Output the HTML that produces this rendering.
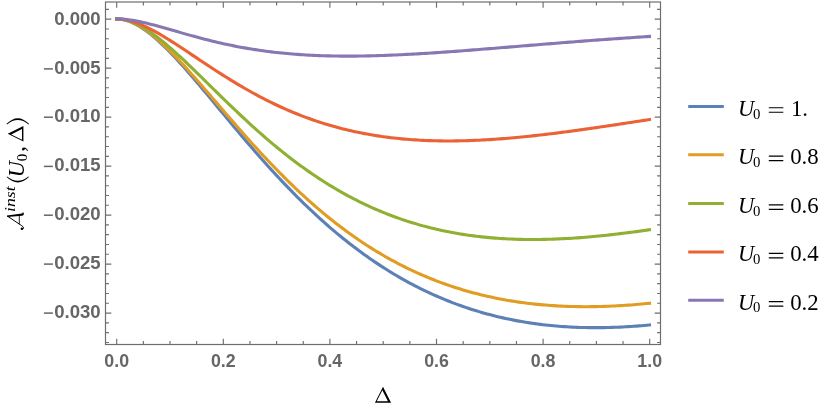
<!DOCTYPE html>
<html><head><meta charset="utf-8"><title>plot</title>
<style>
html,body{margin:0;padding:0;background:#fff;}
body{width:830px;height:414px;position:relative;overflow:hidden;font-family:"Liberation Sans",sans-serif;}
</style></head><body>
<svg width="830" height="414" viewBox="0 0 830 414" style="position:absolute;left:0;top:0;will-change:transform">
<path d="M116.70 18.90 L119.36 19.02 L122.03 19.36 L124.69 19.92 L127.36 20.68 L130.02 21.64 L132.68 22.77 L135.35 24.06 L138.01 25.52 L140.68 27.12 L143.34 28.87 L146.00 30.74 L148.67 32.73 L151.33 34.84 L154.00 37.06 L156.66 39.37 L159.32 41.77 L161.99 44.26 L164.65 46.83 L167.31 49.47 L169.98 52.18 L172.64 54.96 L175.31 57.78 L177.97 60.66 L180.63 63.59 L183.30 66.56 L185.96 69.57 L188.63 72.61 L191.29 75.69 L193.95 78.79 L196.62 81.92 L199.28 85.06 L201.95 88.23 L204.61 91.41 L207.27 94.60 L209.94 97.80 L212.60 101.01 L215.27 104.22 L217.93 107.43 L220.59 110.65 L223.26 113.86 L225.92 117.07 L228.59 120.27 L231.25 123.46 L233.91 126.65 L236.58 129.83 L239.24 132.99 L241.90 136.14 L244.57 139.28 L247.23 142.40 L249.90 145.50 L252.56 148.59 L255.22 151.65 L257.89 154.70 L260.55 157.73 L263.22 160.73 L265.88 163.71 L268.54 166.67 L271.21 169.61 L273.87 172.52 L276.54 175.41 L279.20 178.27 L281.86 181.10 L284.53 183.91 L287.19 186.69 L289.86 189.45 L292.52 192.17 L295.18 194.87 L297.85 197.54 L300.51 200.18 L303.18 202.80 L305.84 205.38 L308.50 207.94 L311.17 210.46 L313.83 212.96 L316.50 215.42 L319.16 217.86 L321.82 220.27 L324.49 222.64 L327.15 224.99 L329.81 227.31 L332.48 229.59 L335.14 231.85 L337.81 234.07 L340.47 236.27 L343.13 238.44 L345.80 240.57 L348.46 242.68 L351.13 244.75 L353.79 246.80 L356.45 248.81 L359.12 250.80 L361.78 252.76 L364.45 254.68 L367.11 256.58 L369.77 258.45 L372.44 260.29 L375.10 262.10 L377.77 263.88 L380.43 265.63 L383.09 267.35 L385.76 269.05 L388.42 270.71 L391.09 272.35 L393.75 273.96 L396.41 275.54 L399.08 277.09 L401.74 278.62 L404.40 280.12 L407.07 281.59 L409.73 283.03 L412.40 284.45 L415.06 285.84 L417.72 287.20 L420.39 288.54 L423.05 289.85 L425.72 291.13 L428.38 292.39 L431.04 293.63 L433.71 294.83 L436.37 296.01 L439.04 297.17 L441.70 298.30 L444.36 299.41 L447.03 300.49 L449.69 301.55 L452.36 302.58 L455.02 303.59 L457.68 304.58 L460.35 305.54 L463.01 306.48 L465.68 307.40 L468.34 308.29 L471.00 309.16 L473.67 310.01 L476.33 310.83 L479.00 311.63 L481.66 312.41 L484.32 313.17 L486.99 313.91 L489.65 314.62 L492.31 315.32 L494.98 315.99 L497.64 316.64 L500.31 317.27 L502.97 317.88 L505.63 318.47 L508.30 319.04 L510.96 319.59 L513.63 320.12 L516.29 320.63 L518.95 321.12 L521.62 321.59 L524.28 322.04 L526.95 322.48 L529.61 322.89 L532.27 323.29 L534.94 323.66 L537.60 324.02 L540.27 324.36 L542.93 324.69 L545.59 324.99 L548.26 325.28 L550.92 325.55 L553.59 325.80 L556.25 326.04 L558.91 326.26 L561.58 326.46 L564.24 326.65 L566.90 326.82 L569.57 326.98 L572.23 327.12 L574.90 327.24 L577.56 327.35 L580.22 327.44 L582.89 327.51 L585.55 327.57 L588.22 327.62 L590.88 327.65 L593.54 327.67 L596.21 327.67 L598.87 327.66 L601.54 327.64 L604.20 327.60 L606.86 327.54 L609.53 327.48 L612.19 327.40 L614.86 327.30 L617.52 327.20 L620.18 327.08 L622.85 326.94 L625.51 326.80 L628.18 326.64 L630.84 326.47 L633.50 326.29 L636.17 326.09 L638.83 325.89 L641.49 325.67 L644.16 325.44 L646.82 325.20 L649.49 324.95" fill="none" stroke="#5e81b5" stroke-width="3.1" stroke-linecap="square" stroke-linejoin="round"/>
<path d="M116.70 18.90 L119.36 19.01 L122.03 19.34 L124.69 19.88 L127.36 20.61 L130.02 21.53 L132.68 22.61 L135.35 23.86 L138.01 25.26 L140.68 26.81 L143.34 28.49 L146.00 30.29 L148.67 32.21 L151.33 34.25 L154.00 36.38 L156.66 38.62 L159.32 40.94 L161.99 43.34 L164.65 45.82 L167.31 48.38 L169.98 50.99 L172.64 53.67 L175.31 56.41 L177.97 59.19 L180.63 62.02 L183.30 64.89 L185.96 67.80 L188.63 70.75 L191.29 73.72 L193.95 76.72 L196.62 79.74 L199.28 82.78 L201.95 85.84 L204.61 88.91 L207.27 91.99 L209.94 95.08 L212.60 98.17 L215.27 101.27 L217.93 104.37 L220.59 107.47 L223.26 110.57 L225.92 113.66 L228.59 116.74 L231.25 119.82 L233.91 122.88 L236.58 125.94 L239.24 128.98 L241.90 132.00 L244.57 135.01 L247.23 138.01 L249.90 140.98 L252.56 143.94 L255.22 146.88 L257.89 149.79 L260.55 152.68 L263.22 155.55 L265.88 158.40 L268.54 161.22 L271.21 164.02 L273.87 166.80 L276.54 169.54 L279.20 172.26 L281.86 174.95 L284.53 177.62 L287.19 180.26 L289.86 182.87 L292.52 185.45 L295.18 188.00 L297.85 190.52 L300.51 193.01 L303.18 195.47 L305.84 197.91 L308.50 200.31 L311.17 202.68 L313.83 205.02 L316.50 207.34 L319.16 209.62 L321.82 211.87 L324.49 214.09 L327.15 216.28 L329.81 218.44 L332.48 220.56 L335.14 222.66 L337.81 224.73 L340.47 226.76 L343.13 228.77 L345.80 230.74 L348.46 232.69 L351.13 234.60 L353.79 236.49 L356.45 238.34 L359.12 240.17 L361.78 241.96 L364.45 243.73 L367.11 245.46 L369.77 247.17 L372.44 248.84 L375.10 250.49 L377.77 252.11 L380.43 253.70 L383.09 255.26 L385.76 256.80 L388.42 258.30 L391.09 259.78 L393.75 261.23 L396.41 262.65 L399.08 264.05 L401.74 265.41 L404.40 266.75 L407.07 268.07 L409.73 269.36 L412.40 270.62 L415.06 271.85 L417.72 273.06 L420.39 274.25 L423.05 275.41 L425.72 276.54 L428.38 277.65 L431.04 278.73 L433.71 279.79 L436.37 280.83 L439.04 281.84 L441.70 282.83 L444.36 283.79 L447.03 284.73 L449.69 285.65 L452.36 286.54 L455.02 287.41 L457.68 288.26 L460.35 289.09 L463.01 289.90 L465.68 290.68 L468.34 291.44 L471.00 292.18 L473.67 292.90 L476.33 293.60 L479.00 294.28 L481.66 294.93 L484.32 295.57 L486.99 296.19 L489.65 296.78 L492.31 297.36 L494.98 297.92 L497.64 298.46 L500.31 298.98 L502.97 299.48 L505.63 299.96 L508.30 300.42 L510.96 300.87 L513.63 301.29 L516.29 301.70 L518.95 302.10 L521.62 302.47 L524.28 302.83 L526.95 303.17 L529.61 303.49 L532.27 303.80 L534.94 304.09 L537.60 304.36 L540.27 304.62 L542.93 304.86 L545.59 305.08 L548.26 305.29 L550.92 305.49 L553.59 305.67 L556.25 305.83 L558.91 305.98 L561.58 306.11 L564.24 306.23 L566.90 306.34 L569.57 306.43 L572.23 306.51 L574.90 306.57 L577.56 306.62 L580.22 306.65 L582.89 306.68 L585.55 306.69 L588.22 306.68 L590.88 306.66 L593.54 306.63 L596.21 306.59 L598.87 306.53 L601.54 306.47 L604.20 306.39 L606.86 306.29 L609.53 306.19 L612.19 306.07 L614.86 305.95 L617.52 305.81 L620.18 305.66 L622.85 305.49 L625.51 305.32 L628.18 305.14 L630.84 304.94 L633.50 304.73 L636.17 304.52 L638.83 304.29 L641.49 304.05 L644.16 303.81 L646.82 303.55 L649.49 303.28" fill="none" stroke="#e19c24" stroke-width="3.1" stroke-linecap="square" stroke-linejoin="round"/>
<path d="M116.70 18.90 L119.36 19.00 L122.03 19.31 L124.69 19.80 L127.36 20.47 L130.02 21.31 L132.68 22.30 L135.35 23.44 L138.01 24.71 L140.68 26.11 L143.34 27.62 L146.00 29.24 L148.67 30.97 L151.33 32.79 L154.00 34.69 L156.66 36.68 L159.32 38.74 L161.99 40.87 L164.65 43.06 L167.31 45.31 L169.98 47.61 L172.64 49.96 L175.31 52.35 L177.97 54.78 L180.63 57.24 L183.30 59.73 L185.96 62.25 L188.63 64.80 L191.29 67.36 L193.95 69.94 L196.62 72.53 L199.28 75.13 L201.95 77.75 L204.61 80.36 L207.27 82.98 L209.94 85.61 L212.60 88.23 L215.27 90.85 L217.93 93.46 L220.59 96.06 L223.26 98.66 L225.92 101.25 L228.59 103.83 L231.25 106.39 L233.91 108.94 L236.58 111.48 L239.24 114.00 L241.90 116.50 L244.57 118.98 L247.23 121.45 L249.90 123.89 L252.56 126.31 L255.22 128.71 L257.89 131.09 L260.55 133.45 L263.22 135.78 L265.88 138.08 L268.54 140.37 L271.21 142.62 L273.87 144.85 L276.54 147.06 L279.20 149.24 L281.86 151.39 L284.53 153.52 L287.19 155.61 L289.86 157.68 L292.52 159.72 L295.18 161.74 L297.85 163.72 L300.51 165.68 L303.18 167.61 L305.84 169.51 L308.50 171.38 L311.17 173.23 L313.83 175.04 L316.50 176.83 L319.16 178.59 L321.82 180.32 L324.49 182.02 L327.15 183.69 L329.81 185.33 L332.48 186.95 L335.14 188.53 L337.81 190.09 L340.47 191.62 L343.13 193.12 L345.80 194.59 L348.46 196.04 L351.13 197.46 L353.79 198.85 L356.45 200.21 L359.12 201.54 L361.78 202.85 L364.45 204.13 L367.11 205.39 L369.77 206.62 L372.44 207.82 L375.10 208.99 L377.77 210.14 L380.43 211.26 L383.09 212.36 L385.76 213.43 L388.42 214.48 L391.09 215.50 L393.75 216.50 L396.41 217.47 L399.08 218.41 L401.74 219.34 L404.40 220.24 L407.07 221.11 L409.73 221.96 L412.40 222.79 L415.06 223.59 L417.72 224.38 L420.39 225.14 L423.05 225.87 L425.72 226.59 L428.38 227.28 L431.04 227.95 L433.71 228.60 L436.37 229.22 L439.04 229.83 L441.70 230.42 L444.36 230.98 L447.03 231.53 L449.69 232.05 L452.36 232.55 L455.02 233.04 L457.68 233.50 L460.35 233.95 L463.01 234.38 L465.68 234.78 L468.34 235.17 L471.00 235.54 L473.67 235.89 L476.33 236.23 L479.00 236.55 L481.66 236.85 L484.32 237.13 L486.99 237.39 L489.65 237.64 L492.31 237.87 L494.98 238.09 L497.64 238.29 L500.31 238.47 L502.97 238.64 L505.63 238.79 L508.30 238.93 L510.96 239.05 L513.63 239.16 L516.29 239.25 L518.95 239.33 L521.62 239.39 L524.28 239.44 L526.95 239.48 L529.61 239.50 L532.27 239.51 L534.94 239.51 L537.60 239.49 L540.27 239.46 L542.93 239.42 L545.59 239.36 L548.26 239.30 L550.92 239.22 L553.59 239.13 L556.25 239.03 L558.91 238.92 L561.58 238.79 L564.24 238.66 L566.90 238.51 L569.57 238.36 L572.23 238.19 L574.90 238.02 L577.56 237.83 L580.22 237.63 L582.89 237.43 L585.55 237.21 L588.22 236.99 L590.88 236.76 L593.54 236.52 L596.21 236.27 L598.87 236.01 L601.54 235.74 L604.20 235.47 L606.86 235.18 L609.53 234.89 L612.19 234.60 L614.86 234.29 L617.52 233.98 L620.18 233.66 L622.85 233.33 L625.51 233.00 L628.18 232.66 L630.84 232.32 L633.50 231.97 L636.17 231.61 L638.83 231.24 L641.49 230.88 L644.16 230.50 L646.82 230.12 L649.49 229.74" fill="none" stroke="#8fb032" stroke-width="3.1" stroke-linecap="square" stroke-linejoin="round"/>
<path d="M116.70 18.90 L119.36 18.98 L122.03 19.22 L124.69 19.61 L127.36 20.14 L130.02 20.79 L132.68 21.56 L135.35 22.43 L138.01 23.41 L140.68 24.47 L143.34 25.63 L146.00 26.85 L148.67 28.15 L151.33 29.51 L154.00 30.93 L156.66 32.41 L159.32 33.93 L161.99 35.49 L164.65 37.09 L167.31 38.72 L169.98 40.39 L172.64 42.07 L175.31 43.79 L177.97 45.52 L180.63 47.26 L183.30 49.02 L185.96 50.79 L188.63 52.56 L191.29 54.34 L193.95 56.12 L196.62 57.90 L199.28 59.68 L201.95 61.46 L204.61 63.23 L207.27 64.99 L209.94 66.75 L212.60 68.49 L215.27 70.22 L217.93 71.94 L220.59 73.65 L223.26 75.34 L225.92 77.02 L228.59 78.68 L231.25 80.32 L233.91 81.94 L236.58 83.55 L239.24 85.13 L241.90 86.70 L244.57 88.24 L247.23 89.77 L249.90 91.27 L252.56 92.74 L255.22 94.20 L257.89 95.63 L260.55 97.04 L263.22 98.43 L265.88 99.79 L268.54 101.13 L271.21 102.45 L273.87 103.74 L276.54 105.01 L279.20 106.25 L281.86 107.47 L284.53 108.66 L287.19 109.83 L289.86 110.98 L292.52 112.10 L295.18 113.20 L297.85 114.27 L300.51 115.32 L303.18 116.35 L305.84 117.35 L308.50 118.32 L311.17 119.28 L313.83 120.21 L316.50 121.11 L319.16 121.99 L321.82 122.85 L324.49 123.69 L327.15 124.50 L329.81 125.30 L332.48 126.06 L335.14 126.81 L337.81 127.53 L340.47 128.24 L343.13 128.92 L345.80 129.58 L348.46 130.21 L351.13 130.83 L353.79 131.43 L356.45 132.00 L359.12 132.56 L361.78 133.09 L364.45 133.61 L367.11 134.10 L369.77 134.58 L372.44 135.03 L375.10 135.47 L377.77 135.89 L380.43 136.29 L383.09 136.67 L385.76 137.03 L388.42 137.38 L391.09 137.70 L393.75 138.01 L396.41 138.31 L399.08 138.58 L401.74 138.84 L404.40 139.09 L407.07 139.31 L409.73 139.53 L412.40 139.72 L415.06 139.90 L417.72 140.07 L420.39 140.22 L423.05 140.35 L425.72 140.47 L428.38 140.58 L431.04 140.67 L433.71 140.75 L436.37 140.81 L439.04 140.86 L441.70 140.90 L444.36 140.93 L447.03 140.94 L449.69 140.94 L452.36 140.93 L455.02 140.90 L457.68 140.87 L460.35 140.82 L463.01 140.76 L465.68 140.69 L468.34 140.61 L471.00 140.52 L473.67 140.42 L476.33 140.30 L479.00 140.18 L481.66 140.05 L484.32 139.90 L486.99 139.75 L489.65 139.59 L492.31 139.42 L494.98 139.24 L497.64 139.05 L500.31 138.86 L502.97 138.65 L505.63 138.44 L508.30 138.22 L510.96 137.99 L513.63 137.75 L516.29 137.51 L518.95 137.26 L521.62 137.00 L524.28 136.73 L526.95 136.46 L529.61 136.19 L532.27 135.90 L534.94 135.61 L537.60 135.31 L540.27 135.01 L542.93 134.70 L545.59 134.39 L548.26 134.07 L550.92 133.75 L553.59 133.42 L556.25 133.09 L558.91 132.75 L561.58 132.41 L564.24 132.06 L566.90 131.71 L569.57 131.36 L572.23 131.00 L574.90 130.63 L577.56 130.27 L580.22 129.90 L582.89 129.53 L585.55 129.15 L588.22 128.77 L590.88 128.39 L593.54 128.01 L596.21 127.62 L598.87 127.23 L601.54 126.84 L604.20 126.44 L606.86 126.05 L609.53 125.65 L612.19 125.25 L614.86 124.85 L617.52 124.45 L620.18 124.04 L622.85 123.64 L625.51 123.23 L628.18 122.82 L630.84 122.41 L633.50 122.00 L636.17 121.59 L638.83 121.18 L641.49 120.77 L644.16 120.36 L646.82 119.95 L649.49 119.53" fill="none" stroke="#eb6235" stroke-width="3.1" stroke-linecap="square" stroke-linejoin="round"/>
<path d="M116.70 18.90 L119.36 18.95 L122.03 19.08 L124.69 19.30 L127.36 19.58 L130.02 19.94 L132.68 20.35 L135.35 20.81 L138.01 21.32 L140.68 21.88 L143.34 22.47 L146.00 23.09 L148.67 23.74 L151.33 24.42 L154.00 25.11 L156.66 25.83 L159.32 26.56 L161.99 27.30 L164.65 28.05 L167.31 28.81 L169.98 29.57 L172.64 30.33 L175.31 31.10 L177.97 31.86 L180.63 32.62 L183.30 33.38 L185.96 34.13 L188.63 34.88 L191.29 35.62 L193.95 36.35 L196.62 37.07 L199.28 37.79 L201.95 38.49 L204.61 39.18 L207.27 39.85 L209.94 40.52 L212.60 41.17 L215.27 41.81 L217.93 42.44 L220.59 43.05 L223.26 43.65 L225.92 44.23 L228.59 44.80 L231.25 45.35 L233.91 45.89 L236.58 46.41 L239.24 46.92 L241.90 47.41 L244.57 47.89 L247.23 48.35 L249.90 48.80 L252.56 49.24 L255.22 49.65 L257.89 50.06 L260.55 50.45 L263.22 50.82 L265.88 51.18 L268.54 51.53 L271.21 51.86 L273.87 52.17 L276.54 52.48 L279.20 52.77 L281.86 53.04 L284.53 53.31 L287.19 53.55 L289.86 53.79 L292.52 54.01 L295.18 54.23 L297.85 54.42 L300.51 54.61 L303.18 54.79 L305.84 54.95 L308.50 55.10 L311.17 55.24 L313.83 55.37 L316.50 55.49 L319.16 55.59 L321.82 55.69 L324.49 55.78 L327.15 55.85 L329.81 55.92 L332.48 55.98 L335.14 56.02 L337.81 56.06 L340.47 56.09 L343.13 56.11 L345.80 56.12 L348.46 56.12 L351.13 56.12 L353.79 56.10 L356.45 56.08 L359.12 56.05 L361.78 56.02 L364.45 55.97 L367.11 55.92 L369.77 55.86 L372.44 55.80 L375.10 55.73 L377.77 55.65 L380.43 55.57 L383.09 55.48 L385.76 55.38 L388.42 55.28 L391.09 55.17 L393.75 55.06 L396.41 54.94 L399.08 54.82 L401.74 54.69 L404.40 54.56 L407.07 54.42 L409.73 54.28 L412.40 54.14 L415.06 53.99 L417.72 53.83 L420.39 53.67 L423.05 53.51 L425.72 53.35 L428.38 53.18 L431.04 53.01 L433.71 52.83 L436.37 52.66 L439.04 52.48 L441.70 52.29 L444.36 52.11 L447.03 51.92 L449.69 51.73 L452.36 51.53 L455.02 51.34 L457.68 51.14 L460.35 50.94 L463.01 50.74 L465.68 50.54 L468.34 50.33 L471.00 50.13 L473.67 49.92 L476.33 49.71 L479.00 49.50 L481.66 49.29 L484.32 49.07 L486.99 48.86 L489.65 48.64 L492.31 48.43 L494.98 48.21 L497.64 48.00 L500.31 47.78 L502.97 47.56 L505.63 47.34 L508.30 47.12 L510.96 46.91 L513.63 46.69 L516.29 46.47 L518.95 46.25 L521.62 46.03 L524.28 45.81 L526.95 45.59 L529.61 45.37 L532.27 45.15 L534.94 44.94 L537.60 44.72 L540.27 44.50 L542.93 44.28 L545.59 44.07 L548.26 43.85 L550.92 43.64 L553.59 43.42 L556.25 43.21 L558.91 43.00 L561.58 42.78 L564.24 42.57 L566.90 42.36 L569.57 42.15 L572.23 41.94 L574.90 41.74 L577.56 41.53 L580.22 41.33 L582.89 41.12 L585.55 40.92 L588.22 40.72 L590.88 40.52 L593.54 40.32 L596.21 40.12 L598.87 39.92 L601.54 39.73 L604.20 39.53 L606.86 39.34 L609.53 39.15 L612.19 38.96 L614.86 38.77 L617.52 38.59 L620.18 38.40 L622.85 38.22 L625.51 38.04 L628.18 37.86 L630.84 37.68 L633.50 37.50 L636.17 37.32 L638.83 37.15 L641.49 36.98 L644.16 36.81 L646.82 36.64 L649.49 36.47" fill="none" stroke="#8778b3" stroke-width="3.1" stroke-linecap="square" stroke-linejoin="round"/>
<rect x="105.5" y="2.0" width="555.0" height="342.5" fill="none" stroke="#6e6e6e" stroke-width="1.2"/>
<path d="M116.70 344.50 v-5.80 M116.70 2.00 v5.80 M143.35 344.50 v-3.40 M143.35 2.00 v3.40 M170.00 344.50 v-3.40 M170.00 2.00 v3.40 M196.65 344.50 v-3.40 M196.65 2.00 v3.40 M223.30 344.50 v-5.80 M223.30 2.00 v5.80 M249.95 344.50 v-3.40 M249.95 2.00 v3.40 M276.60 344.50 v-3.40 M276.60 2.00 v3.40 M303.25 344.50 v-3.40 M303.25 2.00 v3.40 M329.90 344.50 v-5.80 M329.90 2.00 v5.80 M356.55 344.50 v-3.40 M356.55 2.00 v3.40 M383.20 344.50 v-3.40 M383.20 2.00 v3.40 M409.85 344.50 v-3.40 M409.85 2.00 v3.40 M436.50 344.50 v-5.80 M436.50 2.00 v5.80 M463.15 344.50 v-3.40 M463.15 2.00 v3.40 M489.80 344.50 v-3.40 M489.80 2.00 v3.40 M516.45 344.50 v-3.40 M516.45 2.00 v3.40 M543.10 344.50 v-5.80 M543.10 2.00 v5.80 M569.75 344.50 v-3.40 M569.75 2.00 v3.40 M596.40 344.50 v-3.40 M596.40 2.00 v3.40 M623.05 344.50 v-3.40 M623.05 2.00 v3.40 M649.70 344.50 v-5.80 M649.70 2.00 v5.80 M105.50 342.45 h3.40 M660.50 342.45 h-3.40 M105.50 332.65 h3.40 M660.50 332.65 h-3.40 M105.50 322.86 h3.40 M660.50 322.86 h-3.40 M105.50 313.06 h5.80 M660.50 313.06 h-5.80 M105.50 303.26 h3.40 M660.50 303.26 h-3.40 M105.50 293.47 h3.40 M660.50 293.47 h-3.40 M105.50 283.67 h3.40 M660.50 283.67 h-3.40 M105.50 273.87 h3.40 M660.50 273.87 h-3.40 M105.50 264.07 h5.80 M660.50 264.07 h-5.80 M105.50 254.28 h3.40 M660.50 254.28 h-3.40 M105.50 244.48 h3.40 M660.50 244.48 h-3.40 M105.50 234.68 h3.40 M660.50 234.68 h-3.40 M105.50 224.89 h3.40 M660.50 224.89 h-3.40 M105.50 215.09 h5.80 M660.50 215.09 h-5.80 M105.50 205.29 h3.40 M660.50 205.29 h-3.40 M105.50 195.50 h3.40 M660.50 195.50 h-3.40 M105.50 185.70 h3.40 M660.50 185.70 h-3.40 M105.50 175.90 h3.40 M660.50 175.90 h-3.40 M105.50 166.11 h5.80 M660.50 166.11 h-5.80 M105.50 156.31 h3.40 M660.50 156.31 h-3.40 M105.50 146.51 h3.40 M660.50 146.51 h-3.40 M105.50 136.71 h3.40 M660.50 136.71 h-3.40 M105.50 126.92 h3.40 M660.50 126.92 h-3.40 M105.50 117.12 h5.80 M660.50 117.12 h-5.80 M105.50 107.32 h3.40 M660.50 107.32 h-3.40 M105.50 97.53 h3.40 M660.50 97.53 h-3.40 M105.50 87.73 h3.40 M660.50 87.73 h-3.40 M105.50 77.93 h3.40 M660.50 77.93 h-3.40 M105.50 68.13 h5.80 M660.50 68.13 h-5.80 M105.50 58.34 h3.40 M660.50 58.34 h-3.40 M105.50 48.54 h3.40 M660.50 48.54 h-3.40 M105.50 38.74 h3.40 M660.50 38.74 h-3.40 M105.50 28.95 h3.40 M660.50 28.95 h-3.40 M105.50 19.15 h5.80 M660.50 19.15 h-5.80 M105.50 9.35 h3.40 M660.50 9.35 h-3.40" fill="none" stroke="#6e6e6e" stroke-width="1.15"/>
<g font-family="Liberation Sans, sans-serif" font-weight="bold" font-size="17.8" fill="#666666">
<text transform="translate(100.7,25.20) scale(1.045,1)" text-anchor="end">0.000</text>
<text transform="translate(100.7,73.80) scale(1.045,1)" text-anchor="end">0.005</text>
<rect x="43.9" y="68.15" width="9.0" height="1.5"/>
<text transform="translate(100.7,122.10) scale(1.045,1)" text-anchor="end">0.010</text>
<rect x="43.9" y="116.45" width="9.0" height="1.5"/>
<text transform="translate(100.7,171.30) scale(1.045,1)" text-anchor="end">0.015</text>
<rect x="43.9" y="165.65" width="9.0" height="1.5"/>
<text transform="translate(100.7,220.10) scale(1.045,1)" text-anchor="end">0.020</text>
<rect x="43.9" y="214.45" width="9.0" height="1.5"/>
<text transform="translate(100.7,269.00) scale(1.045,1)" text-anchor="end">0.025</text>
<rect x="43.9" y="263.35" width="9.0" height="1.5"/>
<text transform="translate(100.7,318.00) scale(1.045,1)" text-anchor="end">0.030</text>
<rect x="43.9" y="312.35" width="9.0" height="1.5"/>
<text x="116.70" y="366.8" text-anchor="middle">0.0</text>
<text x="223.30" y="366.8" text-anchor="middle">0.2</text>
<text x="329.90" y="366.8" text-anchor="middle">0.4</text>
<text x="436.50" y="366.8" text-anchor="middle">0.6</text>
<text x="543.10" y="366.8" text-anchor="middle">0.8</text>
<text x="649.70" y="366.8" text-anchor="middle">1.0</text>
</g>
<path d="M374.95 402.70 L383.00 386.80 L391.05 402.70 Z M376.78 401.30 L387.93 401.30 L382.36 390.29 Z" fill="#000" fill-rule="evenodd"/>
<g transform="translate(23.5,230.5) rotate(-90)" fill="#000" font-family="Liberation Serif, serif">
<path d="M14.3 -16.0 L5.1 -2.2 Q3.9 -0.2 2.9 0.1 Q1.6 0.4 1.5 -1.0" fill="none" stroke="#000" stroke-width="1.0" stroke-linecap="round"/>
<circle cx="1.8" cy="-1.6" r="1.25"/>
<path d="M13.4 -16.3 L14.9 -16.4 L17.0 -1.6 Q17.2 -0.3 18.2 -0.9 L18.25 -0.3 Q17.2 0.6 15.9 0.3 Q14.9 0 14.8 -1.4 Z"/>
<path d="M6.2 -4.2 H15.3" fill="none" stroke="#000" stroke-width="0.85"/>
<text transform="translate(18.6,-8.5) scale(1.173,1)" font-size="15.1" font-style="italic">inst</text>
<path d="M53.40 -16.90 Q42.50 -5.70 53.40 5.50 L54.05 5.05 Q45.50 -5.70 54.05 -16.45 Z"/>
<text transform="translate(53.2,0) scale(0.93,1)" font-size="24" font-style="italic">U</text>
<text x="69.3" y="3.5" font-size="15">0</text>
<text x="78.6" y="0" font-size="24">,</text>
<path d="M88.95 -0.10 L96.75 -15.80 L104.55 -0.10 Z M90.76 -1.50 L101.45 -1.50 L96.11 -12.26 Z" fill="#000" fill-rule="evenodd"/>
<path d="M106.70 -16.90 Q118.00 -5.70 106.70 5.50 L106.05 5.05 Q115.00 -5.70 106.05 -16.45 Z"/>
</g>
<path d="M688.2 106.40 H723.8" stroke="#5e81b5" stroke-width="3.0" fill="none"/>
<g fill="#000" font-family="Liberation Serif, serif">
<text transform="translate(738.1,115.80) scale(0.93,1)" font-size="24" font-style="italic">U</text>
<text x="753.1" y="118.50" font-size="14.8">0</text>
<path d="M768.8 107.70 h14.5 M768.8 112.20 h14.5" stroke="#000" stroke-width="1.15" fill="none"/>
<text x="790.90" y="115.80" font-size="22.8">1.</text>
</g>
<path d="M688.2 154.75 H723.8" stroke="#e19c24" stroke-width="3.0" fill="none"/>
<g fill="#000" font-family="Liberation Serif, serif">
<text transform="translate(738.1,164.15) scale(0.93,1)" font-size="24" font-style="italic">U</text>
<text x="753.1" y="166.85" font-size="14.8">0</text>
<path d="M768.8 156.05 h14.5 M768.8 160.55 h14.5" stroke="#000" stroke-width="1.15" fill="none"/>
<text x="790.20" y="164.15" font-size="22.8">0.8</text>
</g>
<path d="M688.2 203.60 H723.8" stroke="#8fb032" stroke-width="3.0" fill="none"/>
<g fill="#000" font-family="Liberation Serif, serif">
<text transform="translate(738.1,213.00) scale(0.93,1)" font-size="24" font-style="italic">U</text>
<text x="753.1" y="215.70" font-size="14.8">0</text>
<path d="M768.8 204.90 h14.5 M768.8 209.40 h14.5" stroke="#000" stroke-width="1.15" fill="none"/>
<text x="790.20" y="213.00" font-size="22.8">0.6</text>
</g>
<path d="M688.2 252.05 H723.8" stroke="#eb6235" stroke-width="3.0" fill="none"/>
<g fill="#000" font-family="Liberation Serif, serif">
<text transform="translate(738.1,261.45) scale(0.93,1)" font-size="24" font-style="italic">U</text>
<text x="753.1" y="264.15" font-size="14.8">0</text>
<path d="M768.8 253.35 h14.5 M768.8 257.85 h14.5" stroke="#000" stroke-width="1.15" fill="none"/>
<text x="790.20" y="261.45" font-size="22.8">0.4</text>
</g>
<path d="M688.2 300.30 H723.8" stroke="#8778b3" stroke-width="3.0" fill="none"/>
<g fill="#000" font-family="Liberation Serif, serif">
<text transform="translate(738.1,309.70) scale(0.93,1)" font-size="24" font-style="italic">U</text>
<text x="753.1" y="312.40" font-size="14.8">0</text>
<path d="M768.8 301.60 h14.5 M768.8 306.10 h14.5" stroke="#000" stroke-width="1.15" fill="none"/>
<text x="790.20" y="309.70" font-size="22.8">0.2</text>
</g>
</svg>
</body></html>
